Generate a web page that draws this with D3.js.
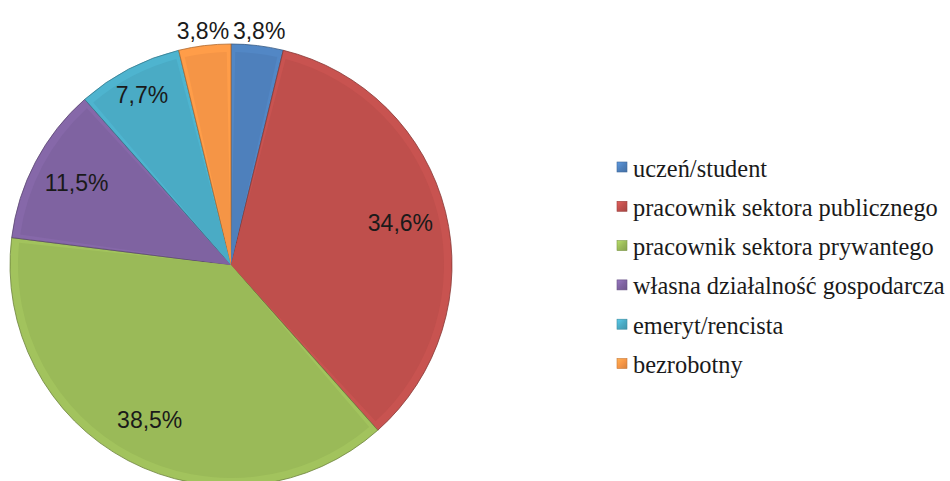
<!DOCTYPE html>
<html>
<head>
<meta charset="utf-8">
<script src="https://cdn.jsdelivr.net/npm/d3@7/dist/d3.min.js"></script>
<style>
  html, body { margin: 0; padding: 0; background: #fff; }
  svg { display: block; }
  .legend-text { font-family: "Liberation Serif", "DejaVu Serif", "Tinos", "Noto Serif", "Times New Roman", serif; }
  .val { font-family: "Liberation Sans", Arial, sans-serif; }
</style>
</head>
<body>
<svg id="chart" width="950" height="481"></svg>
<script>
// Struktura respondentów według statusu zawodowego (%)
const categories = [
  "uczeń/student",
  "pracownik sektora publicznego",
  "pracownik sektora prywantego",
  "własna działalność gospodarcza",
  "emeryt/rencista",
  "bezrobotny"
];
const shares = [3.8, 34.6, 38.5, 11.5, 7.7, 3.8];
const valueLabels = ["3,8%", "34,6%", "38,5%", "11,5%", "7,7%", "3,8%"];
const colors = ["#4F81BD", "#C0504D", "#9BBB59", "#8064A2", "#4BACC6", "#F79646"];

const svg = d3.select("#chart");
const cx = 231, cy = 265, R = 221;

const defs = svg.append("defs");

// legend swatch gradients
colors.forEach((c, i) => {
  const base = d3.color(c);
  const lg = defs.append("linearGradient")
    .attr("id", "lg" + i)
    .attr("x1", 0).attr("y1", 0).attr("x2", 1).attr("y2", 1);
  lg.append("stop").attr("offset", "0%").attr("stop-color", base.brighter(0.5));
  lg.append("stop").attr("offset", "50%").attr("stop-color", base);
  lg.append("stop").attr("offset", "100%").attr("stop-color", base.darker(0.4));
});

const pie = d3.pie().sort(null).value(d => d);
const arcs = pie(shares);
const arc = d3.arc().innerRadius(0).outerRadius(R);

const g = svg.append("g").attr("transform", `translate(${cx},${cy})`);

// slice body with a slightly lighter rim (bevel)
g.selectAll("path.slice")
  .data(arcs)
  .join("path")
  .attr("class", "slice")
  .attr("d", arc)
  .attr("fill", (d, i) => d3.color(colors[i]).brighter(0.12))
  .attr("stroke", (d, i) => d3.color(colors[i]).darker(1.0))
  .attr("stroke-width", 0.8)
  .attr("stroke-linejoin", "round");

// inner face of each slice
const inner = d3.arc().innerRadius(0).outerRadius(R - 8).padAngle(0.04);
g.selectAll("path.facet")
  .data(arcs)
  .join("path")
  .attr("class", "facet")
  .attr("d", inner)
  .attr("fill", (d, i) => d3.color(colors[i]).darker(0.02));

// data labels: small slices outside, others inside
function labelPos(d) {
  const v = d.data;
  let r;
  if (v < 5) r = R + 15;
  else if (v < 10) r = R * 0.87;
  else r = R * 0.79;
  const a = (d.startAngle + d.endAngle) / 2;
  return [Math.sin(a) * r, -Math.cos(a) * r];
}

g.selectAll("text.val")
  .data(arcs)
  .join("text")
  .attr("class", "val")
  .attr("x", d => labelPos(d)[0])
  .attr("y", d => labelPos(d)[1])
  .attr("text-anchor", "middle")
  .attr("dominant-baseline", "central")
  .attr("font-size", 23)
  .attr("fill", "#1a1a1a")
  .text((d, i) => valueLabels[i]);

// legend
const legend = svg.append("g").attr("transform", "translate(617,167)");
const rowStep = 39.3;
const rows = legend.selectAll("g.row")
  .data(categories)
  .join("g")
  .attr("class", "row")
  .attr("transform", (d, i) => `translate(0,${i * rowStep})`);

rows.append("rect")
  .attr("x", 0).attr("y", -5)
  .attr("width", 10).attr("height", 10)
  .attr("fill", (d, i) => `url(#lg${i})`)
  .attr("stroke", (d, i) => d3.color(colors[i]).darker(0.6))
  .attr("stroke-width", 0.6);

const legendText = rows.append("text")
  .attr("class", "legend-text")
  .attr("x", 16)
  .attr("y", 1)
  .attr("dominant-baseline", "central")
  .attr("font-size", 20)
  .attr("fill", "#1a1a1a")
  .text(d => d);

// size the legend font so the longest entry spans the legend column
const widest = d3.max(legendText.nodes(), n => n.getComputedTextLength());
const legendFont = 20 * 312 / widest;
legendText.attr("font-size", legendFont.toFixed(1));
</script>
</body>
</html>
